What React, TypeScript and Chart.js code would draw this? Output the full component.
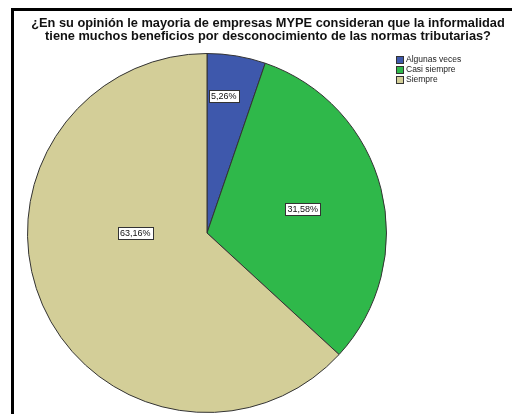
import React, { useEffect, useRef } from "react";
import { Chart, registerables } from "chart.js";

Chart.register(...registerables);

const categories = ["Algunas veces", "Casi siempre", "Siempre"];
const percentages = [5.26, 31.58, 63.16];
const valueLabels = ["5,26%", "31,58%", "63,16%"];
const colors = ["#3e58ac", "#2fb84a", "#d3ce98"];
const titleLines = [
  "¿En su opinión le mayoria de empresas MYPE consideran que la informalidad",
  "tiene muchos beneficios por desconocimiento de las normas tributarias?",
];

const FONT = "'Liberation Sans', Arial, sans-serif";

const decorPlugin = {
  id: "decor",
  afterDraw(chart: any) {
    const ctx = chart.ctx as CanvasRenderingContext2D;
    ctx.save();
    // frame
    ctx.fillStyle = "#000";
    ctx.fillRect(11, 8, 501, 3);
    ctx.fillRect(11, 8, 3, 406);
    // title
    ctx.fillStyle = "#111";
    ctx.font = `bold 12.8px ${FONT}`;
    ctx.textAlign = "center";
    ctx.textBaseline = "middle";
    ctx.fillText(titleLines[0], 268, 23);
    ctx.fillText(titleLines[1], 268, 36);
    // legend
    ctx.font = `8.5px ${FONT}`;
    ctx.textAlign = "left";
    categories.forEach((c, i) => {
      const y = 56 + i * 10;
      ctx.fillStyle = colors[i];
      ctx.fillRect(396, y, 7, 7);
      ctx.strokeStyle = "#333";
      ctx.lineWidth = 1;
      ctx.strokeRect(396.5, y + 0.5, 7, 7);
      ctx.fillStyle = "#222";
      ctx.fillText(c, 406, y + 4);
    });
    // value labels
    const meta = chart.getDatasetMeta(0);
    const fracs = [0.77, 0.55, 0.4];
    const angOverride: (number | null)[] = [-Math.PI / 2 + (7 * Math.PI) / 180, null, Math.PI];
    ctx.font = `9px ${FONT}`;
    ctx.textAlign = "center";
    meta.data.forEach((arc: any, i: number) => {
      const p = arc.getProps(["x", "y", "startAngle", "endAngle", "outerRadius"], true);
      const a = angOverride[i] ?? (p.startAngle + p.endAngle) / 2;
      const r = p.outerRadius * fracs[i];
      const x = p.x + r * Math.cos(a);
      const y = p.y + r * Math.sin(a);
      const w = ctx.measureText(valueLabels[i]).width + 4;
      const h = 12;
      ctx.fillStyle = "#fff";
      ctx.fillRect(Math.round(x - w / 2), Math.round(y - h / 2), Math.round(w), h);
      ctx.strokeStyle = "#333";
      ctx.lineWidth = 1;
      ctx.strokeRect(Math.round(x - w / 2) + 0.5, Math.round(y - h / 2) + 0.5, Math.round(w), h);
      ctx.fillStyle = "#111";
      ctx.fillText(valueLabels[i], x, y + 1);
    });
    ctx.restore();
  },
};

export default function App() {
  const ref = useRef<HTMLCanvasElement>(null);
  useEffect(() => {
    const chart = new Chart(ref.current!, {
      type: "pie",
      data: {
        labels: categories,
        datasets: [
          {
            data: percentages,
            backgroundColor: colors,
            borderColor: "#333",
            borderWidth: 1,
          },
        ],
      },
      options: {
        responsive: false,
        animation: false,
        layout: { padding: { left: 27, right: 125, top: 53, bottom: 1 } },
        plugins: { legend: { display: false }, tooltip: { enabled: false }, title: { display: false } },
      },
      plugins: [decorPlugin],
    });
    return () => chart.destroy();
  }, []);
  return (
    <div style={{ position: "fixed", left: 0, top: 0, width: 512, height: 414, background: "#fff" }}>
      <canvas ref={ref} width={512} height={414} />
    </div>
  );
}
